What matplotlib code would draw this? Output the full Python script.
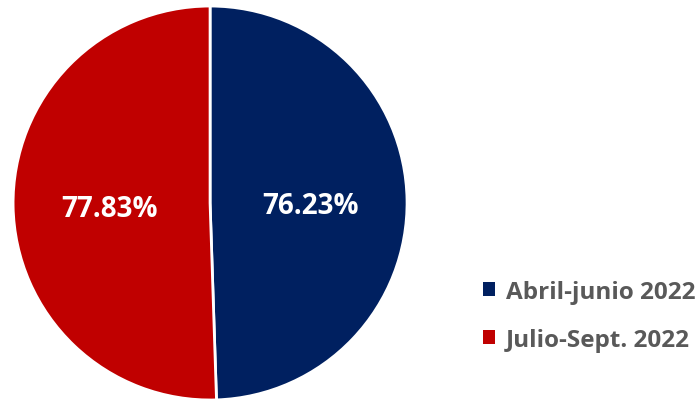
import matplotlib.pyplot as plt
from matplotlib.patches import Patch
import numpy as np

plt.rcParams["font.family"] = ["Open Sans", "DejaVu Sans"]

# Periods and their shares
periods = ["Abril-junio 2022", "Julio-Sept. 2022"]
shares = [76.23, 77.83]
colors = ["#002060", "#C00000"]

fig = plt.figure(figsize=(7.0, 4.02), dpi=100)
ax = fig.add_axes([0.0186, 0.0025, 0.563, 0.980])

wedges, _ = ax.pie(
    shares,
    colors=colors,
    startangle=90,
    counterclock=False,
    radius=1.0,
    wedgeprops={"edgecolor": "white", "linewidth": 2},
)
ax.set_aspect("equal")
ax.set_xlim(-1, 1)
ax.set_ylim(-1, 1)

# Percent labels placed at half radius along each wedge's mid angle
for w, v in zip(wedges, shares):
    ang = np.deg2rad((w.theta1 + w.theta2) / 2)
    ax.text(0.51 * np.cos(ang), 0.51 * np.sin(ang) - 0.02, f"{v:.2f}%",
            ha="center", va="center", color="white",
            fontsize=20, fontweight="bold")

handles = [Patch(facecolor=c, edgecolor="none") for c in colors]
fig.legend(
    handles, periods,
    loc="center left",
    bbox_to_anchor=(0.69, 0.212),
    frameon=False,
    borderpad=0,
    borderaxespad=0,
    handlelength=0.5,
    handleheight=0.5,
    handletextpad=0.45,
    labelspacing=1.0,
    prop={"size": 17.5, "weight": "bold"},
    labelcolor="#595959",
)

fig.savefig("out.png", dpi=100)
